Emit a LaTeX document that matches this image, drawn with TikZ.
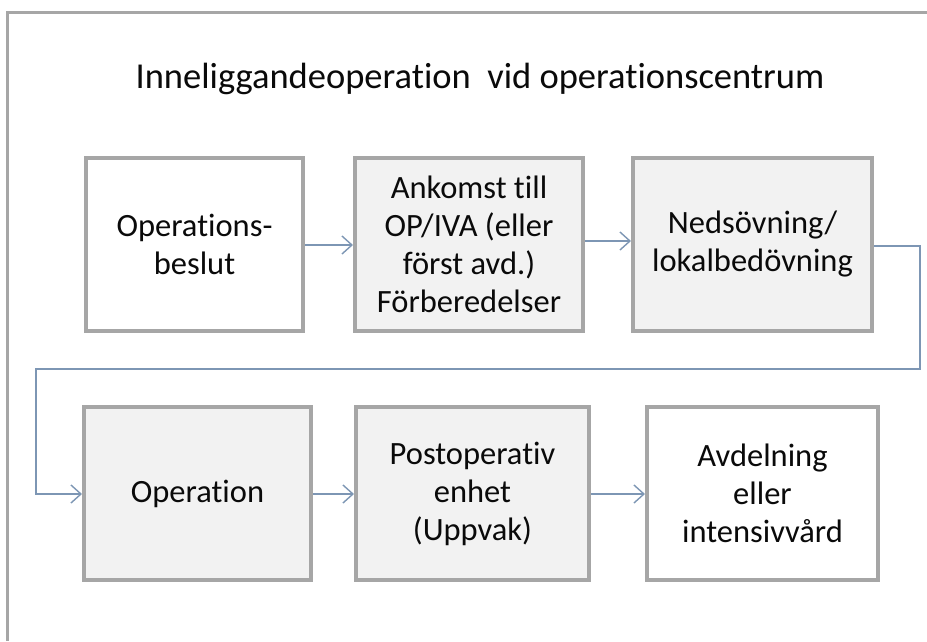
\documentclass[tikz,border=0pt]{standalone}
\usepackage{fontspec}
\setmainfont{Carlito}[Ligatures=NoCommon]
\usetikzlibrary{arrows.meta}
\definecolor{framegray}{RGB}{166,166,166}
\definecolor{boxgray}{RGB}{166,166,166}
\definecolor{fillgray}{RGB}{242,242,242}
\definecolor{arrowblue}{RGB}{125,150,180}
\definecolor{textcol}{RGB}{10,10,10}
\tikzset{
  stepbox/.style={draw=boxgray, line width=4pt, minimum height=173pt, inner sep=0pt,
    align=center, text=textcol, font=\fontsize{32.5}{38}\selectfont},
  whitebox/.style={stepbox, fill=white},
  graybox/.style={stepbox, fill=fillgray},
  flow/.style={draw=arrowblue, line width=1.4pt,
    -{Straight Barb[length=10pt,width=18pt,line width=1.4pt]}},
}
\begin{document}
\begin{tikzpicture}[x=1pt,y=-1pt]
\useasboundingbox[fill=white] (0,0) rectangle (927,641);
\draw[framegray, line width=3pt] (7,641) -- (7,12) -- (927,12);
\node[text=textcol, font=\fontsize{36.5}{42}\selectfont] (title) at (480,79) {Inneliggandeoperation\ \ vid operationscentrum};
\node[whitebox, minimum width=217pt] (b1) at (194.5,244.5) {Operations-\\beslut};
\node[graybox, minimum width=228pt] (b2) at (469,244.5) {Ankomst till\\OP/IVA (eller\\först avd.)\\Förberedelser};
\node[graybox, minimum width=239pt] (b3) at (752.5,244.5) {Nedsövning/\\lokalbedövning};
\node[graybox, minimum width=227pt] (b4) at (197.5,493.5) {Operation};
\node[graybox, minimum width=233pt] (b5) at (472.5,493.5) {Postoperativ\\enhet\\(Uppvak)};
\node[whitebox, minimum width=231pt] (b6) at (762.5,493.5) {Avdelning\\eller\\intensivvård};
\coordinate (c1) at (920,246);
\coordinate (c2) at (920,369);
\coordinate (c3) at (36,369);
\coordinate (c4) at (36,494);
\draw[flow] (b1.east |- 0,245) -- (b2.west |- 0,245);
\draw[flow] (b2.east |- 0,241) -- (b3.west |- 0,241);
\draw[flow] (b3.east |- c1) -- (c1) -- (c2) -- (c3) -- (c4) -- (b4.west |- c4);
\draw[flow] (b4.east |- 0,494) -- (b5.west |- 0,494);
\draw[flow] (b5.east |- 0,494) -- (b6.west |- 0,494);
\end{tikzpicture}
\end{document}
